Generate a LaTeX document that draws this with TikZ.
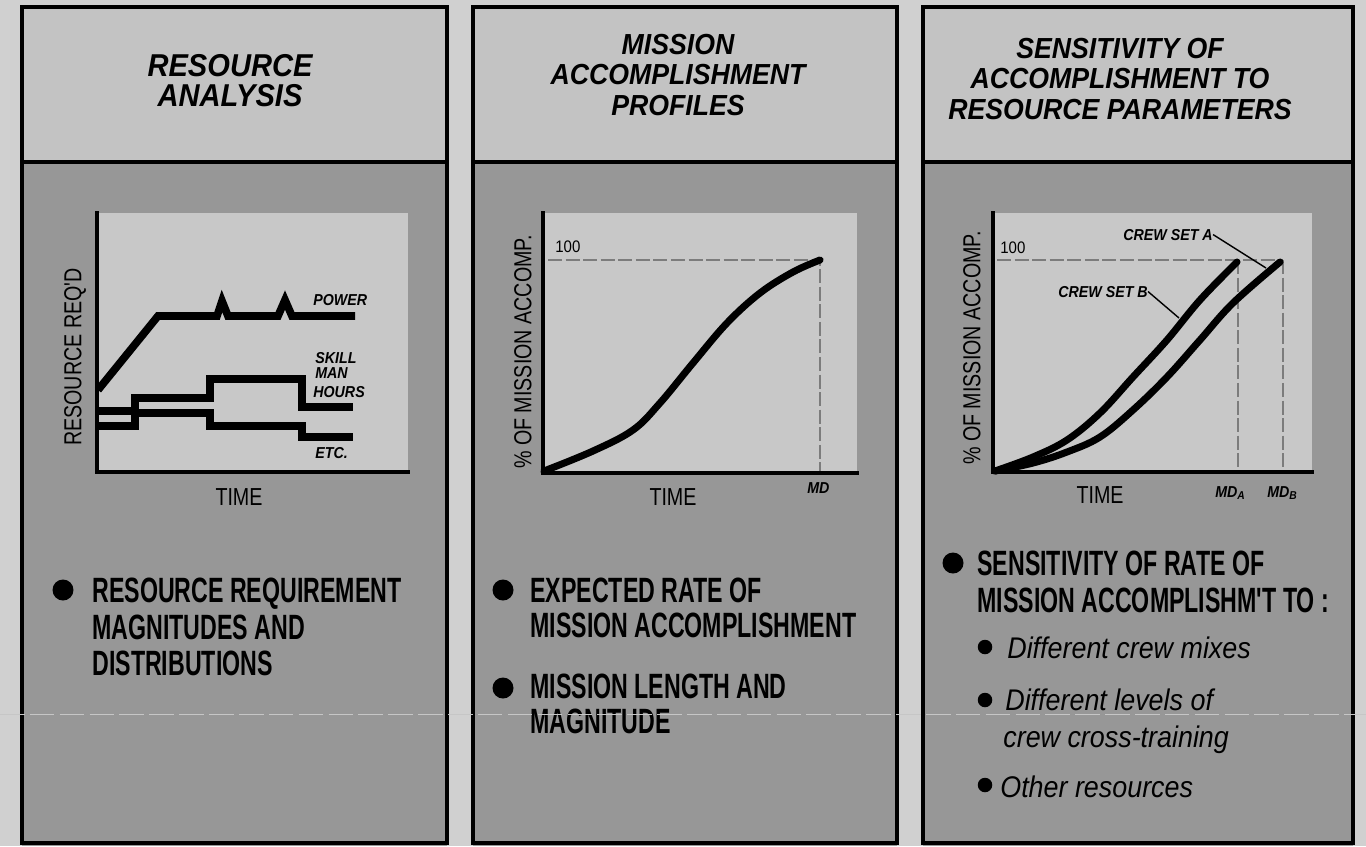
\documentclass[tikz,border=0pt]{standalone}
\usepackage{fontspec}
\setmainfont{Liberation Sans}
\newfontfamily\titlefont{Liberation Sans}[FakeStretch=0.92]
\newfontfamily\bodyfont{Liberation Sans}[FakeStretch=0.66]
\newfontfamily\chartfont{Liberation Sans}[FakeStretch=0.8]
\newfontfamily\labelfont{Liberation Sans}[FakeStretch=0.9]
\newfontfamily\handfont{Liberation Sans}[FakeStretch=0.9]
\definecolor{outbg}{HTML}{D0D0D0}
\definecolor{headbg}{HTML}{C3C3C3}
\definecolor{bodybg}{HTML}{979797}
\definecolor{chartbg}{HTML}{C8C8C8}
\definecolor{dashgray}{HTML}{7C7C7C}
\newcommand{\subA}[1]{\raisebox{-0.35ex}{\fontsize{6.5}{7}\selectfont #1}}
\tikzset{
  panelborder/.style={draw=black, line width=2.3pt},
  headfill/.style={fill=headbg},
  bodyfill/.style={fill=bodybg},
  chartfill/.style={fill=chartbg},
  axisline/.style={draw=black, line width=1.8pt, line cap=rect},
  curveline/.style={draw=black, line width=4pt, line cap=round},
  stepline/.style={draw=black, line width=4.4pt, line cap=butt, line join=miter},
  refdash/.style={draw=dashgray, line width=1.6pt, dash pattern=on 8pt off 2pt},
  leader/.style={draw=black, line width=0.8pt},
  titletext/.style={align=center, inner sep=0pt, font=\titlefont\bfseries\itshape},
  bodyline/.style={anchor=base west, inner sep=0pt, font=\bodyfont\bfseries\fontsize{20}{22}\selectfont},
  handline/.style={anchor=base west, inner sep=0pt, font=\handfont\itshape\fontsize{17}{19}\selectfont},
  bigdot/.style={circle, fill=black, inner sep=0pt, minimum size=0.42cm},
  smalldot/.style={circle, fill=black, inner sep=0pt, minimum size=0.29cm},
  axislabel/.style={inner sep=0pt, font=\chartfont\fontsize{14}{16}\selectfont},
  curvelabel/.style={anchor=base west, inner sep=0pt, font=\labelfont\bfseries\itshape\fontsize{9}{10}\selectfont},
  ticklabel/.style={anchor=base west, inner sep=0pt, font=\labelfont\fontsize{9.5}{11}\selectfont},
}
\begin{document}
\begin{tikzpicture}[x=0.02cm, y=-0.02cm]
\useasboundingbox (0,0) rectangle (1366,846);
\fill[outbg] (0,0) rectangle (1366,846);

% ---------- panels ----------
\foreach \l/\r in {22/447, 473/897, 923/1353}{
  \fill[headfill] (\l,7) rectangle (\r,162);
  \fill[bodyfill] (\l,162) rectangle (\r,846);
  \draw[panelborder] (\l,7) rectangle (\r,843);
  \draw[panelborder] (\l,162) -- (\r,162);
}

% ---------- titles ----------
\node[titletext, font=\titlefont\bfseries\itshape\fontsize{18}{17}\selectfont] (t1) at (230,81) {RESOURCE\\ANALYSIS};
\node[titletext, font=\titlefont\bfseries\itshape\fontsize{16.5}{17.6}\selectfont] (t2) at (678,75) {MISSION\\ACCOMPLISHMENT\\PROFILES};
\node[titletext, font=\titlefont\bfseries\itshape\fontsize{16.5}{17.6}\selectfont] (t3) at (1120,79) {SENSITIVITY OF\\ACCOMPLISHMENT TO\\RESOURCE PARAMETERS};

% ---------- chart 1 ----------
\fill[chartfill] (97,213) rectangle (408,472);
\draw[axisline] (97,213) -- (97,472) -- (408,472);
\draw[stepline] (98,390) -- (158,316) -- (217,316) -- (222,301) -- (228,316) -- (278,316) -- (285,300) -- (292,316) -- (355,316);
\draw[stepline] (98,411) -- (135,411) -- (135,398) -- (210,398) -- (210,379) -- (302,379) -- (302,407) -- (353,407);
\draw[stepline] (98,426) -- (135,426) -- (135,413) -- (210,413) -- (210,426) -- (302,426) -- (302,437) -- (353,437);
\node[curvelabel] (power) at (313,305) {POWER};
\node[curvelabel] (skill) at (315,363) {SKILL};
\node[curvelabel] (man) at (315,378) {MAN};
\node[curvelabel] (hours) at (313,397) {HOURS};
\node[curvelabel] (etc) at (315,458) {ETC.};
\node[axislabel, anchor=base] (time1) at (239,505) {TIME};
\node[axislabel, rotate=90] (ylab1) at (75,357) {RESOURCE REQ'D};

% ---------- chart 2 ----------
\fill[chartfill] (543,213) rectangle (857,473);
\draw[refdash] (548,260) -- (820,260) -- (820,473);
\draw[axisline] (543,213) -- (543,473) -- (857,473);
\draw[curveline] plot[smooth, tension=0.6] coordinates {(544,471) (593,451) (633,430) (660,403) (693,363) (727,323) (760,293) (793,272) (820,260)};
\node[ticklabel] (h2) at (555,252) {100};
\node[curvelabel] (md) at (807,493) {MD};
\node[axislabel, anchor=base] (time2) at (673,505) {TIME};
\node[axislabel, rotate=90] (ylab2) at (523,352) {\% OF MISSION ACCOMP.};

% ---------- chart 3 ----------
\fill[chartfill] (993,213) rectangle (1312,472);
\draw[refdash] (997,260) -- (1283,260);
\draw[refdash] (1238,260) -- (1238,472);
\draw[refdash] (1283,260) -- (1283,472);
\draw[axisline] (993,213) -- (993,472) -- (1312,472);
\draw[curveline] plot[smooth, tension=0.6] coordinates {(995,471) (1033,457) (1067,440) (1100,413) (1133,377) (1167,340) (1200,300) (1237,262)};
\draw[curveline] plot[smooth, tension=0.6] coordinates {(995,471) (1033,463) (1067,452) (1100,437) (1133,410) (1167,377) (1200,340) (1233,303) (1280,262)};
\node[ticklabel] (h3) at (1000,253) {100};
\node[curvelabel] (crewA) at (1123,240) {CREW SET A};
\node[curvelabel] (crewB) at (1058,297) {CREW SET B};
\coordinate (endA) at (1266,268);
\coordinate (endB) at (1179,318);
\draw[leader] (crewA.east) -- (endA);
\draw[leader] (crewB.east) -- (endB);
\node[curvelabel] (mda) at (1215,497) {MD\subA{A}};
\node[curvelabel] (mdb) at (1267,497) {MD\subA{B}};
\node[axislabel, anchor=base] (time3) at (1100,503) {TIME};
\node[axislabel, rotate=90] (ylab3) at (972,348) {\% OF MISSION ACCOMP.};

% ---------- bullet texts ----------
\node[bigdot] (b1) at (63,590) {};
\node[bodyline] (p1a) at (92,602) {RESOURCE REQUIREMENT};
\node[bodyline] (p1b) at (92,639) {MAGNITUDES AND};
\node[bodyline] (p1c) at (92,675) {DISTRIBUTIONS};

\node[bigdot] (b2) at (503,590) {};
\node[bodyline] (p2a) at (530,602) {EXPECTED RATE OF};
\node[bodyline] (p2b) at (530,637) {MISSION ACCOMPLISHMENT};
\node[bigdot] (b3) at (503,688) {};
\node[bodyline] (p2c) at (530,698) {MISSION LENGTH AND};
\node[bodyline] (p2d) at (530,733) {MAGNITUDE};

\node[bigdot] (b4) at (953,563) {};
\node[bodyline] (p3a) at (977,575) {SENSITIVITY OF RATE OF};
\node[bodyline] (p3b) at (977,612) {MISSION ACCOMPLISHM'T TO :};
\node[smalldot] (s1) at (985,647) {};
\node[handline] (q1) at (1007,658) {Different crew mixes};
\node[smalldot] (s2) at (985,700) {};
\node[handline] (q2) at (1005,710) {Different levels of};
\node[handline] (q3) at (1003,747) {crew cross-training};
\node[smalldot] (s3) at (985,785) {};
\node[handline] (q4) at (1000,797) {Other resources};

% fold crease
\draw[bodybg!55!white, line width=0.5pt, dash pattern=on 14pt off 3pt] (0,714) -- (1366,714);
\end{tikzpicture}
\end{document}
